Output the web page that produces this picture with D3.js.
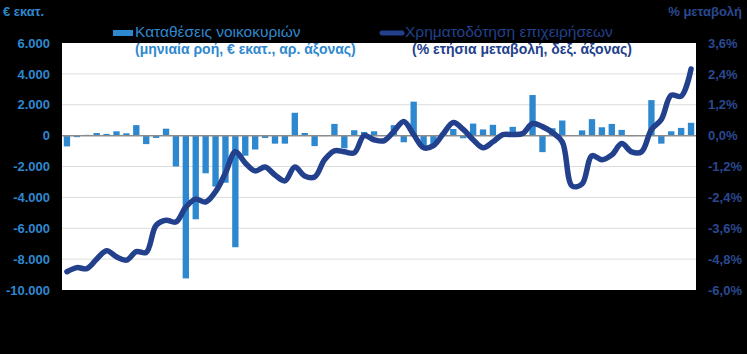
<!DOCTYPE html>
<html>
<head>
<meta charset="utf-8">
<script src="https://cdn.jsdelivr.net/npm/d3@7"></script>
<style>
  body { margin: 0; background: #000; }
  svg { display: block; font-family: Arial, "Liberation Sans", sans-serif; }
</style>
</head>
<body>
<div id="chart"></div>
<script>
// monthly flow of household deposits (EUR mn, left axis)
var deposits = [
  -700, -100, 50, 170, 110, 280, 150, 680, -550, -150,
  450, -2000, -9250, -5420, -2440, -3300, -3050, -7230, -1300, -900,
  -150, -520, -520, 1480, 170, -680, -30, 760, -820, 350,
  240, 280, 30, 680, -430, 2200, -700, -600, 100, 430,
  -170, 780, 400, 700, 100, 570, 50, 2630, -1070, 480,
  980, 0, 340, 1070, 540, 760, 370, -30, -20, 2300,
  -520, 280, 500, 830
];

// business financing, annual % change (right axis)
var financing = [
  -5.29, -5.13, -5.17, -4.80, -4.47, -4.71, -4.84, -4.51, -4.54, -3.49,
  -3.29, -3.36, -2.78, -2.47, -2.58, -2.18, -1.45, -0.63, -1.06, -1.37,
  -1.22, -1.53, -1.76, -1.22, -1.57, -1.61, -0.94, -0.59, -0.63, -0.67,
  0.00, -0.16, -0.20, 0.16, 0.55, 0.04, -0.47, -0.39, 0.08, 0.51,
  0.24, -0.16, -0.47, -0.24, 0.04, 0.04, 0.08, 0.47, 0.35, 0.12,
  -0.24, -1.96, -1.88, -0.78, -0.94, -0.75, -0.31, -0.63, -0.63, 0.24,
  0.63, 1.57, 1.53, 2.59
];

var leftTicks = [6000, 4000, 2000, 0, -2000, -4000, -6000, -8000, -10000];
var rightTicks = [3.6, 2.4, 1.2, 0, -1.2, -2.4, -3.6, -4.8, -6.0];

var legendBars = ["Καταθέσεις νοικοκυριών", "(μηνιαία ροή, € εκατ., αρ. άξονας)"];
var legendLine = ["Χρηματοδότηση επιχειρήσεων", "(% ετήσια μεταβολή, δεξ. άξονας)"];

var svgWidth = 747, svgHeight = 354;
var margin = { top: 43, right: 51, bottom: 64, left: 62 };
var width = svgWidth - margin.left - margin.right;
var height = svgHeight - margin.top - margin.bottom;

var barBlue = "#2e88cf";
var navy = "#22408c";

var gr = d3.formatLocale({ decimal: ",", thousands: ".", grouping: [3], currency: ["", "€"], minus: "-" });
var fmtLeft = gr.format(",");
var fmtRight = gr.format(".1f");

var svg = d3.select("#chart")
  .append("svg")
  .attr("width", svgWidth)
  .attr("height", svgHeight);

svg.append("rect")
  .attr("width", svgWidth)
  .attr("height", svgHeight)
  .attr("fill", "#000");

var chartGroup = svg.append("g")
  .attr("transform", `translate(${margin.left}, ${margin.top})`);

chartGroup.append("rect")
  .attr("width", width)
  .attr("height", height)
  .attr("fill", "#fff");

// scales
var x = d3.scaleBand()
  .domain(d3.range(deposits.length))
  .range([0, width])
  .paddingInner(0.36)
  .paddingOuter(0.18);

var yLeft = d3.scaleLinear().domain([-10000, 6000]).range([height, 0]);
var yRight = d3.scaleLinear().domain([-6.0, 3.6]).range([height, 0]);

// gridlines
chartGroup.append("g")
  .selectAll("line")
  .data(leftTicks.filter(d => d !== 0 && d !== 6000 && d !== -10000))
  .enter()
  .append("line")
  .attr("x1", 0)
  .attr("x2", width)
  .attr("y1", d => yLeft(d))
  .attr("y2", d => yLeft(d))
  .attr("stroke", "#dcdcdc")
  .attr("stroke-width", 1);

// bars
chartGroup.append("g")
  .selectAll("rect")
  .data(deposits)
  .enter()
  .append("rect")
  .attr("x", (d, i) => x(i))
  .attr("width", x.bandwidth())
  .attr("y", d => yLeft(Math.max(0, d)))
  .attr("height", d => Math.abs(yLeft(d) - yLeft(0)))
  .attr("fill", barBlue);

// zero line
chartGroup.append("line")
  .attr("x1", 0)
  .attr("x2", width)
  .attr("y1", yLeft(0))
  .attr("y2", yLeft(0))
  .attr("stroke", "#8c8c8c")
  .attr("stroke-width", 1.5);

// financing line
var line = d3.line()
  .x((d, i) => x(i) + x.bandwidth() / 2)
  .y(d => yRight(d))
  .curve(d3.curveCatmullRom.alpha(0.5));

chartGroup.append("path")
  .datum(financing)
  .attr("d", line)
  .attr("fill", "none")
  .attr("stroke", navy)
  .attr("stroke-width", 5.5)
  .attr("stroke-linejoin", "round")
  .attr("stroke-linecap", "round");

// axes
var leftAxis = d3.axisLeft(yLeft)
  .tickValues(leftTicks)
  .tickFormat(fmtLeft)
  .tickSize(0)
  .tickPadding(12);

var rightAxis = d3.axisRight(yRight)
  .tickValues(rightTicks)
  .tickFormat(d => fmtRight(d) + "%")
  .tickSize(0)
  .tickPadding(12);

var gLeft = chartGroup.append("g").call(leftAxis);
gLeft.select(".domain").remove();
gLeft.selectAll("text")
  .attr("fill", "#2e88cf")
  .attr("font-size", "13px")
  .attr("font-weight", "bold")
  .attr("font-family", "Arial, 'Liberation Sans', sans-serif");

var gRight = chartGroup.append("g")
  .attr("transform", `translate(${width}, 0)`)
  .call(rightAxis);
gRight.select(".domain").remove();
gRight.selectAll("text")
  .attr("fill", "#2a4990")
  .attr("font-size", "13px")
  .attr("font-weight", "bold")
  .attr("font-family", "Arial, 'Liberation Sans', sans-serif");

// axis titles
svg.append("text")
  .attr("x", 3)
  .attr("y", 16)
  .attr("fill", "#2e88cf")
  .attr("font-size", "13px")
  .attr("font-weight", "bold")
  .text("€ εκατ.");

svg.append("text")
  .attr("x", 742)
  .attr("y", 16)
  .attr("text-anchor", "end")
  .attr("fill", "#2a4990")
  .attr("font-size", "13px")
  .attr("font-weight", "bold")
  .text("% μεταβολή");

// legend
var legend = svg.append("g");

legend.append("rect")
  .attr("x", 113)
  .attr("y", 30)
  .attr("width", 20)
  .attr("height", 6)
  .attr("fill", barBlue);

legend.append("text")
  .attr("x", 135)
  .attr("y", 37)
  .attr("fill", barBlue)
  .attr("font-size", "15.5px")
  .text(legendBars[0]);

legend.append("text")
  .attr("x", 135)
  .attr("y", 54)
  .attr("fill", barBlue)
  .attr("font-size", "14px")
  .attr("font-weight", "bold")
  .text(legendBars[1]);

legend.append("line")
  .attr("x1", 382)
  .attr("x2", 402)
  .attr("y1", 33)
  .attr("y2", 33)
  .attr("stroke", navy)
  .attr("stroke-width", 5)
  .attr("stroke-linecap", "round");

legend.append("text")
  .attr("x", 405)
  .attr("y", 37)
  .attr("fill", navy)
  .attr("font-size", "15.5px")
  .text(legendLine[0]);

legend.append("text")
  .attr("x", 412)
  .attr("y", 54)
  .attr("fill", navy)
  .attr("font-size", "14px")
  .attr("font-weight", "bold")
  .text(legendLine[1]);
</script>
</body>
</html>
